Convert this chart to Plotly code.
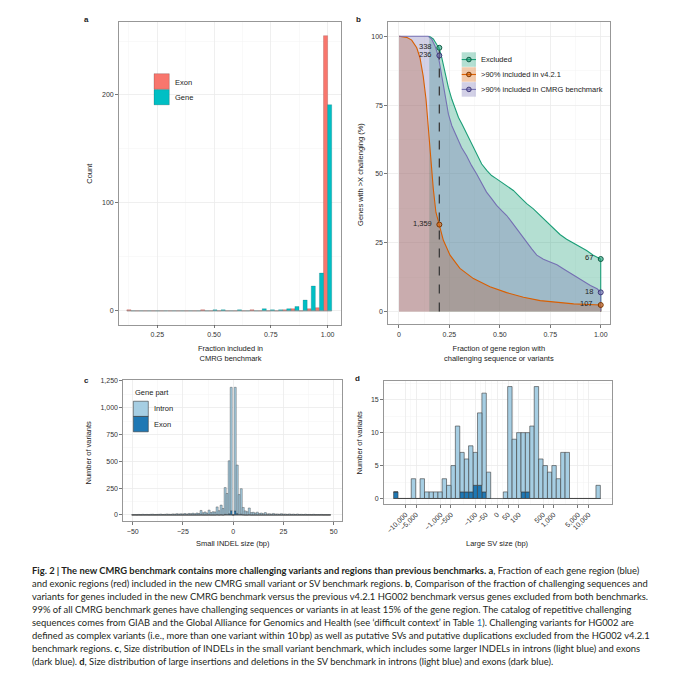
import math
import plotly.graph_objects as go

W, H = 674, 680
def px(x): return x / W
def py(y): return 1 - y / H

FONT = "Liberation Sans, Arial, sans-serif"
CAPFONT = "Lato, Open Sans, sans-serif"

# ---------------- panel a data ----------------
a_bin_centers = [0.134, 0.170, 0.206, 0.242, 0.278, 0.315, 0.351, 0.387, 0.423, 0.459,
                 0.495, 0.531, 0.567, 0.603, 0.639, 0.676, 0.712, 0.748, 0.784, 0.820,
                 0.856, 0.892, 0.928, 0.964, 1.000]
a_bin_width = 0.0361
a_exon_counts = [1, 0, 0, 0, 0, 0, 0, 0, 0, 1, 0, 0, 0, 0, 0, 1, 0, 0, 0, 1, 2, 0, 2, 3, 255]
a_gene_counts = [0, 0, 0, 0, 0, 0, 0, 0, 0, 0, 1, 1, 0, 1, 0, 0, 2, 1, 1, 2, 4, 10, 23, 35, 191]

# ---------------- panel b data ----------------
b_excl_x = [0.150, 0.170, 0.187, 0.198, 0.212, 0.228, 0.245, 0.262, 0.278, 0.295, 0.312, 0.336,
            0.360, 0.385, 0.410, 0.436, 0.459, 0.484, 0.509, 0.534, 0.567, 0.600, 0.633, 0.666,
            0.700, 0.733, 0.766, 0.798, 0.831, 0.864, 0.897, 0.930, 0.963, 1.000, 1.000]
b_excl_y = [100, 99, 97, 95.8, 92.2, 86.7, 81.3, 77.1, 73.5, 70.5, 68.1, 64.5,
            60.8, 57.2, 53.6, 51.2, 49.4, 48.2, 47.0, 45.8, 44.0, 41.6, 39.2, 37.3,
            34.9, 32.5, 30.3, 28.0, 26.3, 25.0, 23.5, 22.2, 20.5, 19.1, 0]
b_cmrg_x = [0.0, 0.145, 0.162, 0.179, 0.195, 0.212, 0.228, 0.245, 0.262, 0.286, 0.310, 0.335,
            0.360, 0.385, 0.410, 0.434, 0.459, 0.484, 0.509, 0.534, 0.559, 0.583, 0.608, 0.633,
            0.658, 0.683, 0.716, 0.749, 0.783, 0.816, 0.849, 0.883, 0.916, 0.949, 0.982, 1.000, 1.000]
b_cmrg_y = [100, 100, 99, 96.4, 92.8, 85.5, 78.3, 71.7, 67.5, 63.3, 59.6, 56.6,
            53.0, 50.0, 46.4, 43.4, 41.0, 38.6, 36.7, 34.9, 32.5, 30.1, 27.7, 25.0,
            22.8, 20.5, 19.0, 18.0, 17.0, 15.5, 14.0, 12.5, 11.0, 9.5, 8.3, 7.0, 0]
b_v421_x = [0.0, 0.038, 0.063, 0.088, 0.104, 0.120, 0.134, 0.145, 0.157, 0.170, 0.183, 0.198,
            0.220, 0.253, 0.302, 0.369, 0.451, 0.534, 0.617, 0.700, 0.783, 0.866, 1.000, 1.000]
b_v421_y = [100, 99.6, 98.6, 95.8, 92.2, 85.5, 77.1, 66.3, 55.4, 44.6, 36.1, 31.6,
            25.9, 20.5, 15.7, 12.0, 9.0, 6.9, 5.2, 4.0, 3.3, 2.8, 2.4, 0]
b_mark_x = [0.2, 1.0]
b_excl_mark_y = [95.8, 19.1]
b_cmrg_mark_y = [93.0, 7.0]
b_v421_mark_y = [31.6, 2.4]
b_excl_labels = ["338", "67"]
b_cmrg_labels = ["236", "18"]
b_v421_labels = ["1,359", "107"]
b_series_names = ["Excluded", ">90% included in v4.2.1", ">90% included in CMRG benchmark"]

# ---------------- panel c data ----------------
c_sizes = list(range(-50, 49))
c_intron = [3, 4, 2, 5, 3, 6, 4, 5, 3, 6,
            7, 4, 5, 6, 8, 5, 6, 9, 7, 6,
            10, 8, 12, 9, 11, 10, 13, 9, 14, 12,
            16, 11, 18, 14, 41, 20, 28, 18, 44, 22,
            30, 28, 73, 40, 90, 60, 249, 195, 493, 1150,
            0,
            1152, 451, 185, 238, 68, 38, 30, 63, 22, 25,
            18, 26, 14, 18, 12, 22, 10, 12, 8, 14,
            9, 10, 7, 12, 8, 9, 6, 10, 6, 8,
            5, 9, 5, 6, 4, 7, 4, 5, 3, 6,
            3, 4, 3, 5, 2, 3, 2, 3]
c_exon = [0, 0, 0, 0, 0, 0, 0, 0, 0, 0,
          0, 0, 0, 0, 0, 0, 0, 0, 0, 0,
          0, 0, 0, 0, 0, 0, 0, 0, 0, 0,
          0, 0, 0, 0, 1, 0, 0, 0, 1, 0,
          0, 0, 2, 0, 2, 0, 6, 5, 12, 40,
          0,
          38, 14, 5, 7, 2, 0, 0, 2, 0, 0,
          0, 0, 0, 0, 0, 0, 0, 0, 0, 0,
          0, 0, 0, 0, 0, 0, 0, 0, 0, 0,
          0, 0, 0, 0, 0, 0, 0, 0, 0, 0,
          0, 0, 0, 0, 0, 0, 0, 0]

# ---------------- panel d data ----------------
d_bin_bp = [42, 56, 75, 101, 135, 180, 241, 323, 432, 578, 773, 1034, 1383, 1850,
            2475, 3311, 4429, 5925, 7926, 10603, 14184, 18975]
d_del_intron = [4, 15, 11, 5, 7, 5, 6, 11, 5, 2, 3, 1, 1, 1, 1, 3, 0, 3, 0, 0, 0, 0]
d_del_exon = [0, 1, 2, 2, 1, 1, 1, 0, 0, 0, 0, 0, 0, 0, 0, 0, 0, 0, 0, 0, 0, 1]
d_ins_intron = [1, 17, 9, 10, 9, 9, 11, 17, 6, 5, 4, 5, 3, 7, 7, 0, 0, 0, 0, 0, 0, 2]
d_ins_exon = [0, 0, 0, 0, 1, 1, 0, 0, 0, 0, 0, 0, 0, 0, 0, 0, 0, 0, 0, 0, 0, 0]
d_tick_bp = [-10000, -5000, -1000, -500, -100, -50, 0, 50, 100, 500, 1000, 5000, 10000]
d_tick_text = ["\u221210,000", "\u22125,000", "\u22121,000", "\u2212500", "\u2212100", "\u221250", "0",
               "50", "100", "500", "1,000", "5,000", "10,000"]
D_LOG_OFFSET = 1.379
D_BIN_W = 0.1265

def sv_t(v):
    if v == 0:
        return 0.0
    return math.copysign(math.log10(abs(v)) - D_LOG_OFFSET, v)

# ---------------- colours ----------------
RED, TEAL = "#F8766D", "#00BFC4"
GREEN, ORANGE, PURPLE = "#1B9E77", "#D95F02", "#7570B3"
def rgba(hexc, a):
    h = hexc.lstrip("#")
    return "rgba(%d,%d,%d,%s)" % (int(h[0:2], 16), int(h[2:4], 16), int(h[4:6], 16), a)
ALPHA = 0.33
LIGHTBLUE, DARKBLUE = "#A6CEE3", "#1F78B4"

fig = go.Figure()

# ---- panel a ----
fig.add_trace(go.Scatter(x=[a_bin_centers[0] - a_bin_width / 2, a_bin_centers[-1] + a_bin_width / 2],
                         y=[0, 0], mode="lines", line=dict(color="#8a8a8a", width=0.8),
                         xaxis="x", yaxis="y", hoverinfo="skip"))
fig.add_trace(go.Bar(x=a_bin_centers, y=a_exon_counts, width=a_bin_width / 2, offset=-a_bin_width / 2,
                     marker=dict(color=RED, line=dict(color="rgba(120,40,35,0.45)", width=0.5)),
                     xaxis="x", yaxis="y", name="Exon"))
fig.add_trace(go.Bar(x=a_bin_centers, y=a_gene_counts, width=a_bin_width / 2, offset=0,
                     marker=dict(color=TEAL, line=dict(color="rgba(0,90,95,0.45)", width=0.5)),
                     xaxis="x", yaxis="y", name="Gene"))

# ---- panel b (drawn in group order: Excluded, v4.2.1, CMRG) ----
b_series = [(b_excl_x, b_excl_y, GREEN), (b_v421_x, b_v421_y, ORANGE), (b_cmrg_x, b_cmrg_y, PURPLE)]
for xs, ys, col in b_series:
    fig.add_trace(go.Scatter(x=xs, y=ys, mode="lines", fill="tozeroy", fillcolor=rgba(col, ALPHA),
                             line=dict(width=0, color=col), xaxis="x2", yaxis="y2", hoverinfo="skip"))
for xs, ys, col in b_series:
    fig.add_trace(go.Scatter(x=xs, y=ys, mode="lines", line=dict(width=1.1, color=col),
                             xaxis="x2", yaxis="y2", hoverinfo="skip"))
fig.add_trace(go.Scatter(x=[b_mark_x[0], b_mark_x[0]], y=[0, b_excl_mark_y[0]], mode="lines",
                         line=dict(color="#3c3c3c", width=1.3, dash="dash"),
                         xaxis="x2", yaxis="y2", hoverinfo="skip"))
for ys, col, dark in [(b_excl_mark_y, GREEN, "#0e5c45"), (b_cmrg_mark_y, PURPLE, "#3f3a7a"),
                      (b_v421_mark_y, ORANGE, "#7a3500")]:
    fig.add_trace(go.Scatter(x=b_mark_x, y=ys, mode="markers",
                             marker=dict(size=5, color=rgba(col, 0.55), line=dict(color=dark, width=1)),
                             xaxis="x2", yaxis="y2", hoverinfo="skip"))

# ---- panel c ----
fig.add_trace(go.Scatter(x=[c_sizes[0] - 0.5, c_sizes[-1] + 0.5], y=[0, 0], mode="lines",
                         line=dict(color="#4a4a4a", width=0.8), xaxis="x3", yaxis="y3", hoverinfo="skip"))
fig.add_trace(go.Bar(x=c_sizes, y=c_exon, width=1.0, marker=dict(color=DARKBLUE, line=dict(color="#3a3a3a", width=0.4)),
                     xaxis="x3", yaxis="y3"))
fig.add_trace(go.Bar(x=c_sizes, y=c_intron, base=c_exon, width=1.0,
                     marker=dict(color=LIGHTBLUE, line=dict(color="#3a3a3a", width=0.4)),
                     xaxis="x3", yaxis="y3"))

# ---- panel d ----
d_pos_del = [sv_t(-v) for v in d_bin_bp]
d_pos_ins = [sv_t(v) for v in d_bin_bp]
d_all_pos = d_pos_del + d_pos_ins
fig.add_trace(go.Scatter(x=[min(d_all_pos) - D_BIN_W / 2, max(d_all_pos) + D_BIN_W / 2], y=[0, 0], mode="lines",
                         line=dict(color="#4a4a4a", width=0.8), xaxis="x4", yaxis="y4", hoverinfo="skip"))
d_exon_all = d_del_exon + d_ins_exon
d_intron_all = d_del_intron + d_ins_intron
fig.add_trace(go.Bar(x=d_all_pos, y=d_exon_all, width=D_BIN_W,
                     marker=dict(color=DARKBLUE, line=dict(color="#3a3a3a", width=0.6)),
                     xaxis="x4", yaxis="y4"))
fig.add_trace(go.Bar(x=d_all_pos, y=d_intron_all, base=d_exon_all, width=D_BIN_W,
                     marker=dict(color=LIGHTBLUE, line=dict(color="#3a3a3a", width=0.6)),
                     xaxis="x4", yaxis="y4"))

# ---------------- axes ----------------
def ax(**kw):
    base = dict(showline=True, mirror=True, linecolor="#8c8c8c", linewidth=0.9,
                ticks="outside", ticklen=3, tickcolor="#555", tickwidth=0.8,
                showgrid=True, gridcolor="#EBEBEB", gridwidth=0.8, zeroline=False,
                tickfont=dict(family=FONT, size=7, color="#333"), fixedrange=True)
    base.update(kw)
    return base

def minor(vals):
    return dict(tickmode="array", tickvals=vals, showgrid=True, gridcolor="#F4F4F4", gridwidth=0.5, ticks="")

d_tickpos = [sv_t(v) for v in d_tick_bp]
d_minor = [(d_tickpos[i] + d_tickpos[i + 1]) / 2 for i in range(len(d_tickpos) - 1)]

fig.update_layout(
    width=W, height=H, margin=dict(l=0, r=0, t=0, b=0),
    paper_bgcolor="white", plot_bgcolor="white", showlegend=False, barmode="overlay",
    font=dict(family=FONT, size=7.5, color="#222"),
    xaxis=ax(domain=[px(119), px(341)], range=[0.0813, 1.059], anchor="y",
             tickmode="array", tickvals=[0.25, 0.5, 0.75, 1.0], ticktext=["0.25", "0.50", "0.75", "1.00"],
             minor=minor([0.125, 0.375, 0.625, 0.875])),
    yaxis=ax(domain=[py(323), py(19)], range=[-12.7, 267.7], anchor="x",
             tickmode="array", tickvals=[0, 100, 200], minor=minor([50, 150, 250])),
    xaxis2=ax(domain=[px(388.3), px(610)], range=[-0.053, 1.046], anchor="y2",
              tickmode="array", tickvals=[0, 0.25, 0.5, 0.75, 1.0], ticktext=["0", "0.25", "0.50", "0.75", "1.00"],
              minor=minor([0.125, 0.375, 0.625, 0.875])),
    yaxis2=ax(domain=[py(322.7), py(19)], range=[-4.6, 105.2], anchor="x2",
              tickmode="array", tickvals=[0, 25, 50, 75, 100], minor=minor([12.5, 37.5, 62.5, 87.5])),
    xaxis3=ax(domain=[px(123.3), px(341.7)], range=[-54.7, 54.0], anchor="y3",
              tickmode="array", tickvals=[-50, -25, 0, 25, 50], minor=minor([-37.5, -12.5, 12.5, 37.5])),
    yaxis3=ax(domain=[py(520.7), py(379)], range=[-60, 1255], anchor="x3",
              tickmode="array", tickvals=[0, 250, 500, 750, 1000, 1250],
              ticktext=["0", "250", "500", "750", "1,000", "1,250"],
              minor=minor([125, 375, 625, 875, 1125])),
    xaxis4=ax(domain=[px(384), px(611.7)], range=[-3.238, 3.287], anchor="y4",
              tickmode="array", tickvals=d_tickpos, ticktext=d_tick_text, tickangle=-45,
              minor=minor(d_minor)),
    yaxis4=ax(domain=[py(503.3), py(379.3)], range=[-0.85, 17.9], anchor="x4",
              tickmode="array", tickvals=[0, 5, 10, 15], minor=minor([2.5, 7.5, 12.5, 17.5])),
)

ann = []
def A(x, y, text, size=7.5, xanchor="center", yanchor="middle", angle=0, family=FONT, color="#222"):
    ann.append(dict(x=px(x), y=py(y), xref="paper", yref="paper", text=text, showarrow=False,
                    xanchor=xanchor, yanchor=yanchor, textangle=angle,
                    font=dict(family=family, size=size, color=color)))

# panel labels
A(87, 17, "<b>a</b>", 8)
A(358.3, 16.5, "<b>b</b>", 8)
A(86, 379.5, "<b>c</b>", 8)
A(357.7, 377.5, "<b>d</b>", 8)

# axis titles
A(90, 171.5, "Count", angle=-90)
A(230, 352, "Fraction included in<br>CMRG benchmark")
A(360.7, 172, "Genes with >X challenging (%)", angle=-90)
A(499.3, 352, "Fraction of gene region with<br>challenging sequence or variants")
A(89, 451.5, "Number of variants", angle=-90)
A(233, 543.3, "Small INDEL size (bp)")
A(360, 441.5, "Number of variants", angle=-90)
A(497, 543.3, "Large SV size (bp)")

shapes = []
def rect(x0, y0, x1, y1, fill, line="rgba(0,0,0,0.35)", lw=0.5):
    shapes.append(dict(type="rect", xref="paper", yref="paper", x0=px(x0), x1=px(x1), y0=py(y1), y1=py(y0),
                       fillcolor=fill, line=dict(color=line, width=lw), layer="above"))

# legend a
rect(154, 71, 169.3, 86.7, RED)
rect(154, 87, 169.3, 102.3, TEAL)
A(173.3, 79.5, "Exon", xanchor="left")
A(173.3, 95.2, "Gene", xanchor="left")

# legend b
leg_cols = [(GREEN, "#0e5c45"), (ORANGE, "#7a3500"), (PURPLE, "#3f3a7a")]
for i, (name, (col, dark)) in enumerate(zip(b_series_names, leg_cols)):
    yc = 56.8 + 15 * i
    rect(461.7, yc - 7.3, 476, yc + 7.3, rgba(col, ALPHA), line="rgba(0,0,0,0)", lw=0)
    shapes.append(dict(type="line", xref="paper", yref="paper", x0=px(461.7), x1=px(476), y0=py(yc), y1=py(yc),
                       line=dict(color=col, width=1.1), layer="above"))
    shapes.append(dict(type="circle", xref="paper", yref="paper", x0=px(466.6), x1=px(471.2),
                       y0=py(yc + 2.3), y1=py(yc - 2.3), fillcolor=rgba(col, 0.55),
                       line=dict(color=dark, width=1), layer="above"))
    A(479.3, yc, name, xanchor="left")

# point labels in b
for lbls, ys, shift in [(b_excl_labels, b_excl_mark_y, 1.5), (b_cmrg_labels, b_cmrg_mark_y, 1.0),
                        (b_v421_labels, b_v421_mark_y, 1.2)]:
    for xv, yv, t in zip(b_mark_x, ys, lbls):
        ann.append(dict(x=xv, y=yv, xref="x2", yref="y2", text=t, showarrow=False, xanchor="right",
                        yanchor="middle", xshift=-5.5, yshift=shift,
                        font=dict(family=FONT, size=7.5, color="#222")))

# legend c
A(132.7, 391, "Gene part", xanchor="left")
rect(133.3, 400, 148.3, 415.3, LIGHTBLUE, line="#3a3a3a", lw=0.6)
rect(133.3, 415.3, 148.3, 430.7, DARKBLUE, line="#3a3a3a", lw=0.6)
A(151.7, 407.7, "Intron", xanchor="left")
A(151.7, 423.3, "Exon", xanchor="left")

# caption
caption_lines = [
    "<b>Fig. 2 | The new CMRG benchmark contains more challenging variants and regions than previous benchmarks. a</b>, Fraction of each gene region (blue)",
    "and exonic regions (red) included in the new CMRG small variant or SV benchmark regions. <b>b</b>, Comparison of the fraction of challenging sequences and",
    "variants for genes included in the new CMRG benchmark versus the previous v4.2.1 HG002 benchmark versus genes excluded from both benchmarks.",
    "99% of all CMRG benchmark genes have challenging sequences or variants in at least 15% of the gene region. The catalog of repetitive challenging",
    "sequences comes from GIAB and the Global Alliance for Genomics and Health (see \u2018difficult context\u2019 in Table <span style='color:#2e6db4'>1</span>). Challenging variants for HG002 are",
    "defined as complex variants (i.e., more than one variant within 10\u2009bp) as well as putative SVs and putative duplications excluded from the HG002 v4.2.1",
    "benchmark regions. <b>c</b>, Size distribution of INDELs in the small variant benchmark, which includes some larger INDELs in introns (light blue) and exons",
    "(dark blue). <b>d</b>, Size distribution of large insertions and deletions in the SV benchmark in introns (light blue) and exons (dark blue).",
]
for i, line in enumerate(caption_lines):
    A(30, 570.5 + 13.0 * i, line, size=9.4, xanchor="left", family=CAPFONT, color="#231f20")

fig.update_layout(annotations=ann, shapes=shapes)
fig.write_html("out.html", config={"displayModeBar": False, "staticPlot": True},
               post_script="document.body.style.margin='0px';document.body.style.padding='0px';"
                           "document.body.style.overflow='hidden';")
